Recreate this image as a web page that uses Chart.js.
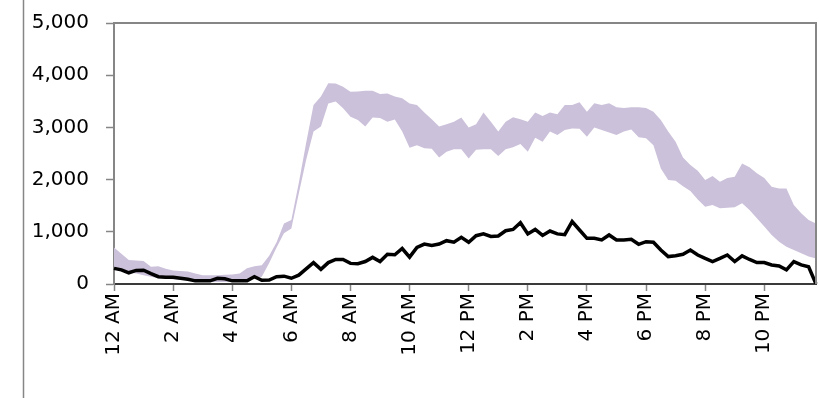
<!DOCTYPE html>
<html>
<head>
<meta charset="utf-8">
<script src="https://cdn.jsdelivr.net/npm/chart.js@4/dist/chart.umd.min.js"></script>
<style>
  html, body { margin: 0; padding: 0; background: #fff; }
</style>
</head>
<body>
<canvas id="chart" width="819" height="398"></canvas>
<script>
// 15-minute slots over one day, labelled every 2 hours
const tickLabels = ['12 AM', '2 AM', '4 AM', '6 AM', '8 AM', '10 AM',
                    '12 PM', '2 PM', '4 PM', '6 PM', '8 PM', '10 PM'];
const slots = [];
for (let h = 0; h < 24; h++) {
    for (let m = 0; m < 60; m += 15) {
        const hh = h % 12 === 0 ? 12 : h % 12;
        slots.push(hh + ':' + String(m).padStart(2, '0') + (h < 12 ? ' AM' : ' PM'));
    }
}

// band upper edge
const bandHigh = [
    700, 580, 460, 450, 440, 330, 340, 290, 260, 250, 240, 200, 170, 170, 170, 175,
    180, 200, 300, 340, 360, 540, 800, 1160, 1225, 1930, 2700, 3430, 3590, 3845, 3840, 3780,
    3685, 3690, 3700, 3700, 3640, 3650, 3590, 3560, 3460, 3430, 3285, 3155, 3015, 3060, 3110, 3190,
    3000, 3060, 3285, 3110, 2920, 3110, 3195, 3155, 3110, 3285, 3220, 3285, 3250, 3430, 3430, 3480,
    3300, 3465, 3430, 3465, 3385, 3370, 3385, 3385, 3370, 3300, 3140, 2920, 2725, 2425, 2280, 2170,
    1990, 2070, 1960, 2030, 2055, 2310, 2235, 2120, 2030, 1865, 1830, 1830, 1515, 1355, 1225, 1160
];
// band lower edge
const bandLow = [
    320, 280, 220, 200, 170, 140, 110, 100, 90, 80, 70, 50, 40, 40, 40, 40,
    50, 60, 80, 100, 140, 400, 700, 970, 1065, 1730, 2375, 2920, 3015, 3460, 3495, 3365,
    3205, 3140, 3015, 3190, 3180, 3110, 3150, 2920, 2610, 2660, 2600, 2590, 2425, 2535, 2580, 2580,
    2405, 2570, 2580, 2580, 2450, 2580, 2620, 2680, 2535, 2800, 2725, 2920, 2855, 2950, 2980, 2975,
    2820, 3000, 2950, 2900, 2855, 2920, 2960, 2810, 2790, 2660, 2215, 1990, 1980, 1875, 1780, 1620,
    1480, 1515, 1450, 1460, 1470, 1545, 1420, 1260, 1100, 940, 810, 715, 650, 590, 525, 490
];
// actual line
const actual = [
    300, 270, 215, 260, 265, 200, 140, 130, 130, 110, 90, 60, 60, 60, 110, 100,
    60, 60, 60, 140, 70, 75, 140, 150, 110, 170, 290, 410, 280, 410, 470, 470,
    395, 390, 430, 510, 430, 570, 560, 680, 515, 700, 765, 740, 765, 830, 800, 895,
    800, 925, 960, 910, 920, 1020, 1045, 1175, 960, 1045, 930, 1015, 960, 945, 1195, 1035,
    875, 875, 845, 940, 845, 845, 855, 760, 810, 800, 650, 525, 540, 570, 650, 555,
    490, 430, 490, 555, 430, 540, 470, 410, 410, 365, 345, 270, 430, 365, 330, 0
];

const yTicks = [0, 1000, 2000, 3000, 4000, 5000];

const axisFont = { family: "'DejaVu Sans', sans-serif", size: 20 };
const frameGray = '#868686';

const framePlugin = {
    id: 'frame',
    afterDraw(chart) {
        const a = chart.chartArea;
        const c = chart.ctx;
        c.save();
        c.strokeStyle = frameGray;
        c.lineWidth = 2;
        // plot area border on top and right
        c.beginPath();
        c.moveTo(a.left, a.top);
        c.lineTo(a.right, a.top);
        c.lineTo(a.right, a.bottom);
        c.stroke();
        // outer frame line on the left
        c.lineWidth = 1.5;
        c.beginPath();
        c.moveTo(23.5, 0);
        c.lineTo(23.5, chart.height);
        c.stroke();
        c.restore();
    }
};

new Chart(document.getElementById('chart'), {
    type: 'line',
    data: {
        labels: slots,
        datasets: [{
            label: 'Actual',
            data: actual,
            borderColor: '#000000',
            borderWidth: 3.5,
            pointRadius: 0,
            fill: false,
            tension: 0
        }, {
            label: 'High',
            data: bandHigh,
            borderWidth: 0,
            borderColor: 'rgba(0,0,0,0)',
            backgroundColor: '#ccc1da',
            pointRadius: 0,
            fill: '+1',
            tension: 0
        }, {
            label: 'Low',
            data: bandLow,
            borderWidth: 0,
            borderColor: 'rgba(0,0,0,0)',
            pointRadius: 0,
            fill: false,
            tension: 0
        }]
    },
    options: {
        responsive: false,
        animation: false,
        layout: { padding: { top: 23, right: 3, left: 0, bottom: 0 } },
        scales: {
            x: {
                type: 'category',
                offset: false,
                afterFit: function(scale) {
                    scale.height = 114;
                    scale.paddingLeft = 0;
                    scale.paddingRight = 0;
                },
                border: { display: true, color: '#3a3a3a', width: 2 },
                grid: {
                    drawOnChartArea: false,
                    drawTicks: true,
                    tickLength: 7,
                    tickWidth: 1.5,
                    tickColor: function(ctx) {
                        return ctx.index % 8 === 0 ? frameGray : 'rgba(0,0,0,0)';
                    }
                },
                ticks: {
                    autoSkip: false,
                    maxRotation: 90,
                    minRotation: 90,
                    padding: 2,
                    color: '#000000',
                    font: axisFont,
                    callback: function(value, index) {
                        return index % 8 === 0 ? tickLabels[index / 8] : '';
                    }
                }
            },
            y: {
                min: 0,
                max: 5000,
                afterFit: function(scale) {
                    scale.width = 114;
                    scale.paddingTop = 0;
                    scale.paddingBottom = 0;
                },
                afterBuildTicks: function(scale) {
                    scale.ticks = yTicks.map(function(v) { return { value: v }; });
                },
                border: { display: true, color: frameGray, width: 2 },
                grid: {
                    drawOnChartArea: false,
                    drawTicks: true,
                    tickLength: 8,
                    tickWidth: 1.5,
                    tickColor: frameGray
                },
                ticks: {
                    padding: 17,
                    color: '#000000',
                    font: axisFont,
                    callback: function(value) { return value.toLocaleString('en-US'); }
                }
            }
        },
        plugins: {
            legend: { display: false },
            tooltip: { enabled: false }
        }
    },
    plugins: [framePlugin]
});
</script>
</body>
</html>
